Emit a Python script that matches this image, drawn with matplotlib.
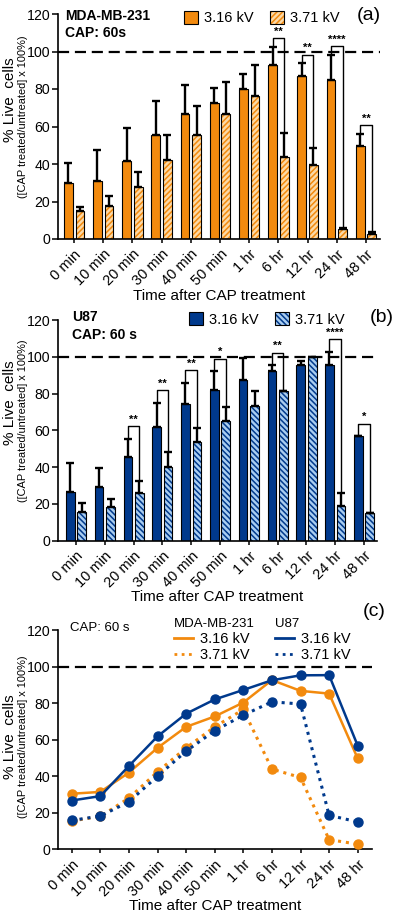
import numpy as np
import matplotlib
matplotlib.use("Agg")
import matplotlib.pyplot as plt
from matplotlib.patches import Patch
from matplotlib.lines import Line2D

plt.rcParams['font.family'] = ['Liberation Sans', 'DejaVu Sans']
plt.rcParams['hatch.linewidth'] = 1.1

# ---- data ----
times = ['0 min', '10 min', '20 min', '30 min', '40 min', '50 min',
         '1 hr', '6 hr', '12 hr', '24 hr', '48 hr']

mda_316 = [30.1, 31.1, 41.6, 55.3, 66.5, 72.5, 80.0, 92.8, 86.8, 85.0, 49.5]
mda_316_err = [10.3, 16.3, 17.4, 18.2, 15.4, 8.1, 8.0, 9.8, 7.1, 13.3, 6.6]
mda_371 = [15.2, 17.8, 28.0, 42.4, 55.3, 66.9, 76.3, 43.9, 39.3, 5.3, 2.8]
mda_371_err = [1.8, 5.2, 7.9, 12.9, 15.4, 17.0, 16.7, 12.4, 9.0, 0.7, 0.9]
mda_sig = ['', '', '', '', '', '', '', '**', '**', '****', '**']

u87_316 = [26.7, 29.1, 45.6, 61.8, 74.2, 82.0, 87.2, 92.5, 95.3, 95.3, 56.7]
u87_316_err = [15.5, 10.7, 9.8, 12.9, 11.6, 10.0, 12.3, 2.8, 2.3, 7.4, 0.0]
u87_371 = [15.8, 18.2, 26.0, 40.0, 53.7, 64.9, 73.4, 81.2, 100.0, 18.6, 15.0]
u87_371_err = [4.9, 4.5, 6.4, 8.0, 7.8, 7.6, 7.8, 0.3, 0.0, 7.3, 0.0]
u87_sig = ['', '', '**', '**', '**', '*', '', '**', '', '****', '*']

# panel (c) curves
mda_316_line = [30.4, 31.4, 42.0, 55.5, 67.0, 72.7, 80.3, 92.6, 86.7, 85.2, 49.7]
mda_371_line = [15.5, 18.0, 28.0, 42.4, 55.5, 67.0, 76.5, 43.9, 39.3, 5.3, 2.8]
u87_316_line = [26.7, 29.1, 45.6, 61.8, 74.2, 82.0, 87.2, 92.5, 95.2, 95.3, 56.7]
u87_371_line = [15.8, 18.2, 26.0, 40.0, 53.7, 64.9, 73.4, 80.7, 79.5, 18.6, 15.0]

ORANGE = '#F28A0E'
ORANGE_LT = '#FCD9A6'
NAVY = '#00398C'
BLUE_LT = '#A9CDF0'

W, H = 400, 914
fig = plt.figure(figsize=(W / 100, H / 100), dpi=100)


def axes_px(left, right, top, bottom):
    return fig.add_axes([left / W, 1 - bottom / H, (right - left) / W, (bottom - top) / H])


def style_axes(ax, xlim):
    ax.set_ylim(0, 120)
    ax.set_xlim(*xlim)
    ax.set_yticks([0, 20, 40, 60, 80, 100, 120])
    ax.set_xticks(np.arange(len(times)))
    ax.set_xticklabels(times, rotation=45, ha='right', rotation_mode='anchor', fontsize=10.5)
    ax.tick_params(axis='y', labelsize=10.2, length=4, width=1.1, pad=1.5)
    ax.tick_params(axis='x', length=3, width=1.1, pad=3)
    for s in ['top', 'right']:
        ax.spines[s].set_visible(False)
    for s in ['left', 'bottom']:
        ax.spines[s].set_linewidth(1.2)
    ax.axhline(100, color='black', lw=1.6, ls=(0, (5, 2.6)), zorder=1)
    ax.set_xlabel('Time after CAP treatment', fontsize=11, labelpad=0)


def ylabel(ax, y1, y2):
    fig.text(10.5 / W, 1 - y1 / H, '% Live  cells', rotation=90, ha='center', va='center', fontsize=11)
    fig.text(23.5 / W, 1 - y2 / H, '([CAP treated/untreated] x 100%)', rotation=90,
             ha='center', va='center', fontsize=7.9)


def bar_panel(ax, v1, e1, v2, e2, sig, col, col_lt, hatch, gap_top):
    x = np.arange(len(times))
    off, bw = 0.2, 0.3
    ax.bar(x - off, v1, bw, color=col, edgecolor='black', lw=0.8, zorder=2)
    ax.bar(x + off, v2, bw, color=col_lt, edgecolor=col, lw=0, hatch=hatch, zorder=2)
    ax.bar(x + off, v2, bw, fill=False, edgecolor='black', lw=0.8, zorder=3)
    z = np.zeros(len(times))
    for xx, vv, ee in [(x - off, v1, e1), (x + off, v2, e2)]:
        ax.errorbar(xx, vv, yerr=[z, ee], fmt='none', ecolor='black', elinewidth=1.7,
                    capsize=2.6, capthick=1.7, zorder=4)
    for i, s in enumerate(sig):
        if not s:
            continue
        yl = v1[i] + e1[i] + 1.0
        yr = v2[i] + e2[i] + 1.0
        yt = v1[i] + e1[i] + gap_top
        ax.plot([i - off, i - off, i + off, i + off], [yl, yt, yt, yr], color='black', lw=1.0,
                zorder=5, clip_on=False)
        ax.text(i, yt + 0.8, s, ha='center', va='bottom', fontsize=8, fontweight='bold', zorder=5)
    h1 = Patch(facecolor=col, edgecolor='black', lw=0.8)
    h2a = Patch(facecolor=col_lt, edgecolor=col, lw=0, hatch=hatch)
    h2b = Patch(fill=False, edgecolor='black', lw=0.8)
    return h1, (h2a, h2b)


# ---- (a) MDA-MB-231 ----
ax_a = axes_px(58, 380, 14, 239)
h1, h2 = bar_panel(ax_a, mda_316, mda_316_err, mda_371, mda_371_err, mda_sig,
                   ORANGE, ORANGE_LT, '//////', 4.5)
style_axes(ax_a, (-0.55, 10.48))
ax_a.legend([h1, h2], ['3.16 kV', '3.71 kV'], ncol=2, loc='upper left',
            bbox_to_anchor=(0.39, 1.015), frameon=False, fontsize=10.5,
            handlelength=1.0, handleheight=1.0, handletextpad=0.4, columnspacing=1.1,
            borderpad=0, borderaxespad=0)
fig.text(65 / W, 1 - 16 / H, 'MDA-MB-231', fontsize=10, fontweight='bold', va='center')
fig.text(65 / W, 1 - 33 / H, 'CAP: 60s', fontsize=10, fontweight='bold', va='center')
fig.text(369 / W, 1 - 15 / H, '(a)', fontsize=14, ha='center', va='center')
ylabel(ax_a, 100, 117)

# ---- (b) U87 ----
ax_b = axes_px(58, 377, 320, 540.7)
h1, h2 = bar_panel(ax_b, u87_316, u87_316_err, u87_371, u87_371_err, u87_sig,
                   NAVY, BLUE_LT, '\\\\\\\\\\\\', 7.0)
style_axes(ax_b, (-0.625, 10.45))
ax_b.legend([h1, h2], ['3.16 kV', '3.71 kV'], ncol=2, loc='upper left',
            bbox_to_anchor=(0.41, 1.035), frameon=False, fontsize=10.5,
            handlelength=1.0, handleheight=1.0, handletextpad=0.4, columnspacing=1.1,
            borderpad=0, borderaxespad=0)
fig.text(72 / W, 1 - 317 / H, 'U87', fontsize=10, fontweight='bold', va='center')
fig.text(72 / W, 1 - 335 / H, 'CAP: 60 s', fontsize=10, fontweight='bold', va='center')
fig.text(382 / W, 1 - 317 / H, '(b)', fontsize=14, ha='center', va='center')
ylabel(ax_b, 403, 421)

# ---- (c) curves ----
ax_c = axes_px(58, 372, 630, 849.3)
x = np.arange(len(times))
kw = dict(marker='o', ms=6.5, lw=1.8)
ax_c.plot(x, mda_316_line, color=ORANGE, ls='-', zorder=3, **kw)
ax_c.plot(x, mda_371_line, color=ORANGE, ls=(0, (1, 1.6)), lw=2.2, marker='o', ms=6.5, zorder=3)
ax_c.plot(x, u87_316_line, color=NAVY, ls='-', zorder=4, **kw)
ax_c.plot(x, u87_371_line, color=NAVY, ls=(0, (1, 1.6)), lw=2.2, marker='o', ms=6.5, zorder=4)
style_axes(ax_c, (-0.48, 10.5))
leg_kw = dict(loc='upper left', frameon=False, fontsize=10.5, handlelength=1.3,
              handletextpad=0.5, borderpad=0, borderaxespad=0, labelspacing=0.15,
              title_fontsize=9.5, alignment='left')
lh = lambda c, ls: Line2D([], [], color=c, ls=ls, lw=2)
leg1 = ax_c.legend([lh(ORANGE, '-'), lh(ORANGE, (0, (1, 1.6)))], ['3.16 kV', '3.71 kV'],
                   title='MDA-MB-231', bbox_to_anchor=(0.37, 1.055), **leg_kw)
ax_c.add_artist(leg1)
ax_c.legend([lh(NAVY, '-'), lh(NAVY, (0, (1, 1.6)))], ['3.16 kV', '3.71 kV'],
            title='U87', bbox_to_anchor=(0.69, 1.055), **leg_kw)
fig.text(70 / W, 1 - 628 / H, 'CAP: 60 s', fontsize=9.5, va='center')
fig.text(374 / W, 1 - 612 / H, '(c)', fontsize=14, ha='center', va='center')
ylabel(ax_c, 737, 737)

fig.savefig('out.png', dpi=100)
